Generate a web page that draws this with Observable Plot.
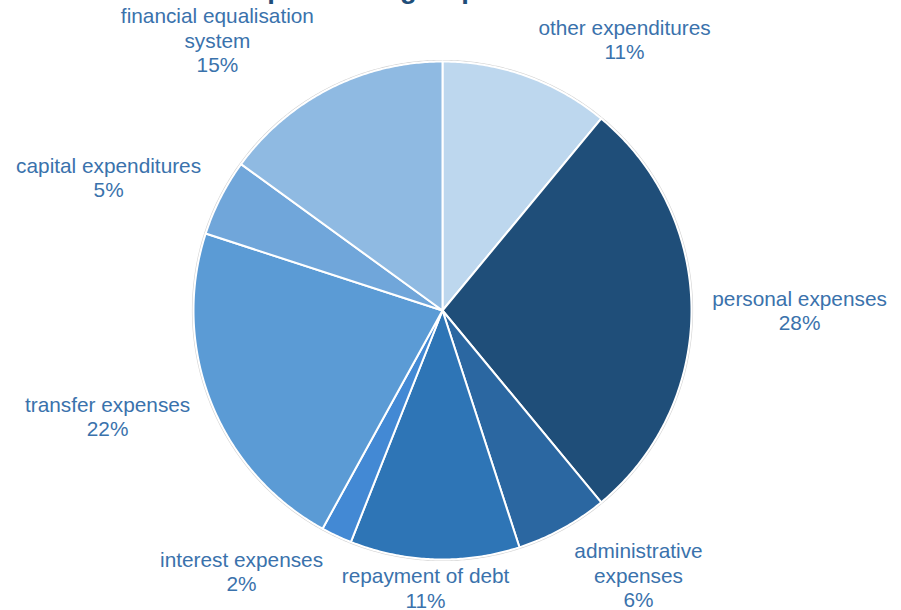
<!DOCTYPE html>
<html>
<head>
<meta charset="utf-8">
<script src="https://cdn.jsdelivr.net/npm/d3@7"></script>
<script src="https://cdn.jsdelivr.net/npm/@observablehq/plot@0.6"></script>
<style>
  html, body { margin: 0; padding: 0; background: #fff; overflow: hidden; }
  #chart svg { display: block; }
</style>
</head>
<body>
<div id="chart"></div>
<script>
// Expenditure groups, shares of total spending (%), clockwise from 12 o'clock
const categories = [
  "other expenditures",
  "personal expenses",
  "administrative expenses",
  "repayment of debt",
  "interest expenses",
  "transfer expenses",
  "capital expenditures",
  "financial equalisation system"
];
const shares = [11, 28, 6, 11, 2, 22, 5, 15];
const labelText = [
  "other expenditures",
  "personal expenses",
  "administrative\nexpenses",
  "repayment of debt",
  "interest expenses",
  "transfer expenses",
  "capital expenditures",
  "financial equalisation\nsystem"
];
const sliceColors = [
  "#BDD7EE", "#1F4E79", "#2B67A1", "#2E75B6",
  "#4389D4", "#5B9BD5", "#70A6DA", "#8FBAE2"
];
// label block centres, in units of the pie radius (x right, y up)
const labelAnchors = [
  [0.731, 1.090], [1.434, 0.002], [0.787, -1.062], [-0.068, -1.114],
  [-0.807, -1.046], [-1.345, -0.424], [-1.341, 0.536], [-0.904, 1.086]
];
const titleText = "Expenditure groups";

const W = 901, H = 610;
const R = 249, cx = 442, cy = 310;   // pie radius and centre in pixels
const font = "'Liberation Sans', Arial, sans-serif";

// build wedge outlines (unit circle, angles clockwise from top)
const total = d3.sum(shares);
const wedges = [];
let start = 0;
categories.forEach((c, i) => {
  const a0 = start, a1 = start + shares[i] / total * 2 * Math.PI;
  start = a1;
  wedges.push({category: c, x: 0, y: 0});
  const n = Math.max(2, Math.ceil((a1 - a0) / (Math.PI / 360)));
  for (let k = 0; k <= n; k++) {
    const a = a0 + (a1 - a0) * k / n;
    wedges.push({category: c, x: Math.sin(a), y: Math.cos(a)});
  }
  wedges.push({category: c, x: 0, y: 0});
});

// faint rim just outside the pie
const rim = d3.range(0, 721).map(k => {
  const a = k / 720 * 2 * Math.PI;
  return {x: 1.004 * Math.sin(a), y: 1.004 * Math.cos(a)};
});

const labels = categories.map((c, i) => ({
  category: c,
  text: `${labelText[i]}\n${shares[i]}%`,
  x: labelAnchors[i][0],
  y: labelAnchors[i][1]
}));

const chart = Plot.plot({
  width: W,
  height: H,
  margin: 0,
  x: {domain: [-cx / R, (W - cx) / R], axis: null},
  y: {domain: [-(H - cy) / R, cy / R], axis: null},
  color: {domain: categories, range: sliceColors},
  style: {background: "#fff", fontFamily: font},
  marks: [
    Plot.line(rim, {x: "x", y: "y", stroke: "#d4d4d4", strokeWidth: 1.2}),
    Plot.line(wedges, {
      x: "x", y: "y", z: "category",
      fill: "category",
      stroke: "white", strokeWidth: 2, strokeLinejoin: "round"
    }),
    Plot.text(labels, {
      x: "x", y: "y", text: "text",
      fill: "#3A72AC",
      fontSize: 20.8,
      lineHeight: 1.18,
      textAnchor: "middle",
      lineAnchor: "middle"
    }),
    Plot.text([titleText], {
      frameAnchor: "top-left",
      text: d => d,
      dx: 233, dy: -3,
      textAnchor: "start",
      lineAnchor: "bottom",
      fontSize: 27.5,
      fontWeight: "bold",
      fill: "#1F4E79"
    })
  ]
});

document.getElementById("chart").append(chart);
</script>
</body>
</html>
